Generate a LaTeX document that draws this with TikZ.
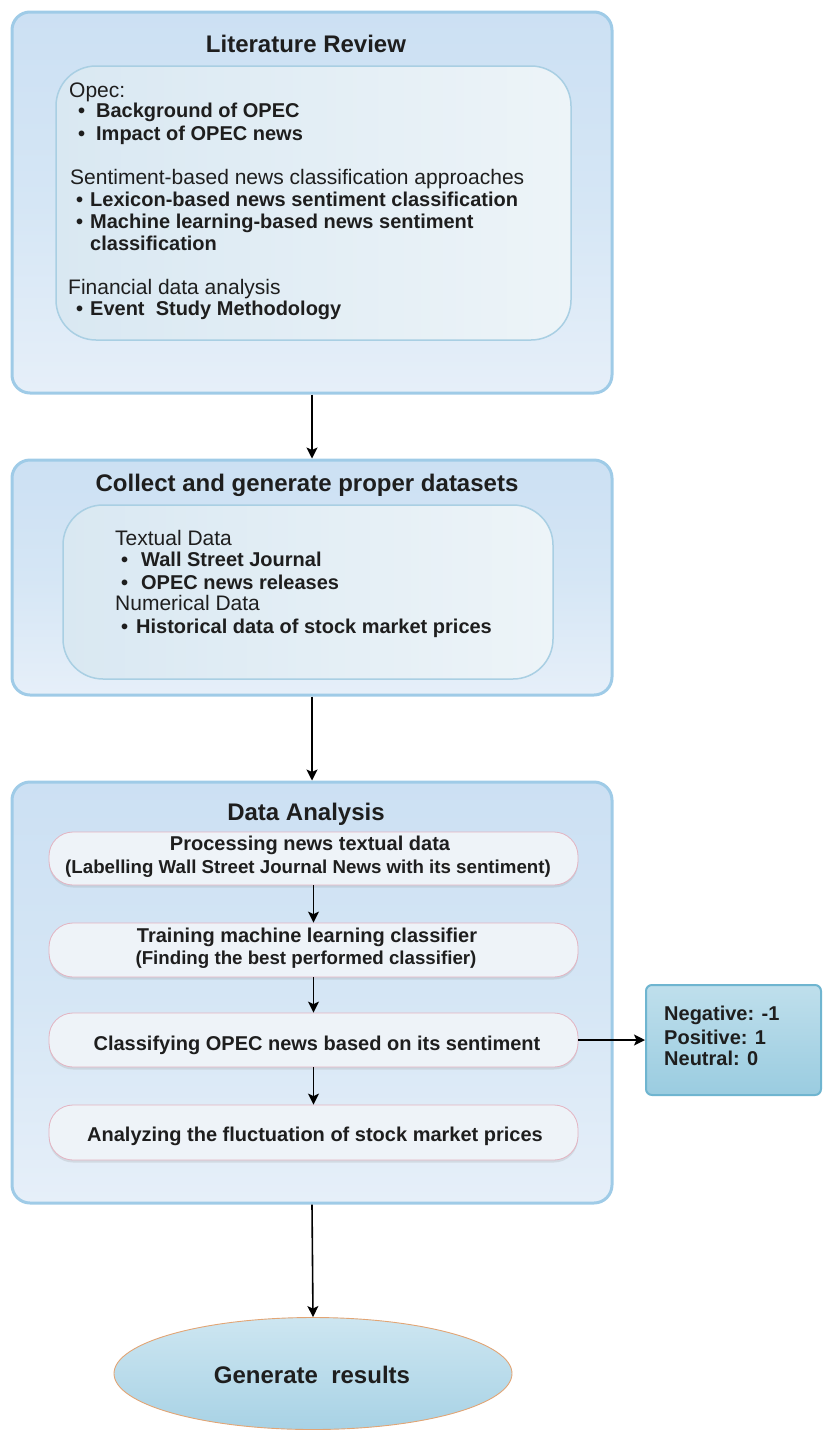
\documentclass[tikz,border=0pt]{standalone}
\usepackage{fontspec}
\setmainfont{Liberation Sans}
\usetikzlibrary{arrows.meta,shapes.geometric,shadows}

\definecolor{ink}{HTML}{1E1E1E}
\definecolor{rim}{HTML}{9FCBE7}
\definecolor{outtop}{HTML}{CCE0F3}
\definecolor{outmid}{HTML}{D5E6F5}
\definecolor{outbot}{HTML}{E6EFF9}
\definecolor{inrim}{HTML}{A9CFE3}
\definecolor{inleft}{HTML}{D9E8F2}
\definecolor{inright}{HTML}{EDF4F8}
\definecolor{pillrim}{HTML}{E3B3C1}
\definecolor{pillfill}{HTML}{EEF3F8}
\definecolor{siderim}{HTML}{6FB5D0}
\definecolor{sidetop}{HTML}{BFDFEC}
\definecolor{sidebot}{HTML}{9ACCE0}
\definecolor{elltop}{HTML}{CDE6F1}
\definecolor{ellbot}{HTML}{A8D2E5}
\definecolor{ellrim}{HTML}{E2A575}

\begin{document}
\begin{tikzpicture}[x=1pt,y=-1pt,
  outerbox/.style={draw=rim, line width=3pt, rounded corners=18pt,
    top color=outtop, bottom color=outbot, middle color=outmid,
    minimum width=600pt, inner sep=0pt},
  innerbox/.style={draw=inrim, line width=1.5pt, rounded corners=40pt,
    left color=inleft, right color=inright, inner sep=0pt},
  pill/.style={draw=pillrim, line width=0.8pt, rounded corners=24pt,
    fill=pillfill, minimum width=529pt, inner sep=0pt,
    drop shadow={opacity=0.18, shadow xshift=0pt, shadow yshift=-2.5pt}},
  sidebox/.style={draw=siderim, line width=2pt, rounded corners=6pt,
    top color=sidetop, bottom color=sidebot, inner sep=0pt,
    minimum width=175pt, minimum height=110pt},
  endshape/.style={ellipse, draw=ellrim, line width=0.9pt,
    top color=elltop, bottom color=ellbot, inner sep=0pt,
    minimum width=398pt, minimum height=112pt},
  titletext/.style={anchor=base, inner sep=0pt, text=ink,
    font=\fontsize{24}{28}\selectfont\bfseries},
  headtext/.style={anchor=base west, inner sep=0pt, text=ink,
    font=\fontsize{21}{25}\selectfont},
  itemtext/.style={anchor=base west, inner sep=0pt, text=ink,
    font=\fontsize{20}{24}\selectfont\bfseries},
  pilltext/.style={anchor=base, inner sep=0pt, text=ink,
    font=\fontsize{20}{24}\selectfont\bfseries},
  notetext/.style={anchor=base, inner sep=0pt, text=ink,
    font=\fontsize{18.7}{22}\selectfont\bfseries},
  flow/.style={line width=1.6pt, draw=black,
    -{Stealth[length=11pt,width=11pt,inset=2.5pt]}}
]
\useasboundingbox (0,0) rectangle (825,1430);

% ---------- Literature review ----------
\node[outerbox, minimum height=381pt] (lit) at (312,202.5) {};
\node[innerbox, minimum width=515pt, minimum height=274pt] (litin) at (313.5,203) {};
\node[titletext] (littitle) at (306,52.6) {Literature Review};
\node[headtext] (l1) at (69,97) {Opec:};
\node[itemtext] (l2) at (78,117) {\makebox[18pt][l]{•}Background of OPEC};
\node[itemtext] (l3) at (78,140) {\makebox[18pt][l]{•}Impact of OPEC news};
\node[headtext] (l4) at (70,184.5) {Sentiment-based news classification approaches};
\node[itemtext] (l5) at (76,206) {\makebox[14pt][l]{•}Lexicon-based news sentiment classification};
\node[itemtext] (l6) at (76,228) {\makebox[14pt][l]{•}Machine learning-based news sentiment};
\node[itemtext] (l7) at (90,250) {classification};
\node[headtext] (l8) at (68,294) {Financial data analysis};
\node[itemtext] (l9) at (76,315) {\makebox[14pt][l]{•}Event\ \ Study Methodology};

% ---------- Datasets ----------
\node[outerbox, minimum height=235pt] (data) at (312,577.5) {};
\node[innerbox, minimum width=490pt, minimum height=174pt] (datain) at (308,592) {};
\node[titletext] (datatitle) at (307,491.6) {Collect and generate proper datasets};
\node[headtext] (d1) at (115,545.5) {Textual Data};
\node[itemtext] (d2) at (121,566) {\makebox[20pt][l]{•}Wall Street Journal};
\node[itemtext] (d3) at (121,589) {\makebox[20pt][l]{•}OPEC news releases};
\node[headtext] (d4) at (115,610.5) {Numerical Data};
\node[itemtext] (d5) at (121,633) {\makebox[15pt][l]{•}Historical data of stock market prices};

% ---------- Data analysis ----------
\node[outerbox, minimum height=421pt] (ana) at (312,992.5) {};
\node[titletext] (anatitle) at (306,820.6) {Data Analysis};
\node[pill, minimum height=53pt] (p1) at (313.5,858.5) {};
\node[pilltext] (p1a) at (310,850) {Processing news textual data};
\node[notetext] (p1b) at (308,873.7) {(Labelling Wall Street Journal News with its sentiment)};
\node[pill, minimum height=54pt] (p2) at (313.5,950) {};
\node[pilltext] (p2a) at (307,942) {Training machine learning classifier};
\node[notetext] (p2b) at (306,964.7) {(Finding the best performed classifier)};
\node[pill, minimum height=54pt] (p3) at (313.5,1040) {};
\node[pilltext] (p3a) at (317,1050) {Classifying OPEC news based on its sentiment};
\node[pill, minimum height=55pt] (p4) at (313.5,1132.5) {};
\node[pilltext] (p4a) at (315,1141) {Analyzing the fluctuation of stock market prices};

% ---------- Sentiment labels ----------
\node[sidebox] (side) at (733.5,1040) {};
\node[itemtext] (s1) at (664,1020) {Negative: -1};
\node[itemtext] (s2) at (664,1044) {Positive: 1};
\node[itemtext] (s3) at (664,1065) {Neutral: 0};

% ---------- Results ----------
\node[endshape] (res) at (313,1373.5) {};
\node[titletext] (restext) at (312,1383.6) {Generate\ \ results};

% ---------- Connectors ----------
\draw[flow] (lit.south) -- (data.north);
\draw[flow] (data.south) -- (ana.north);
\draw[flow] (p1.south) -- (p2.north);
\draw[flow] (p2.south) -- (p3.north);
\draw[flow] (p3.south) -- (p4.north);
\draw[flow] (p3.east) -- (side.west);
\draw[flow] (ana.south) -- (res.north);
\end{tikzpicture}
\end{document}
